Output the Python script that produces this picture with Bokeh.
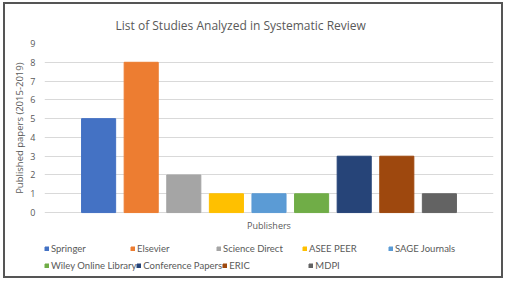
from bokeh.plotting import figure
from bokeh.models import ColumnDataSource, Legend, LegendItem, Range1d, FixedTicker, Label, Title
from bokeh.embed import file_html
from bokeh.resources import INLINE

publishers = ["Springer", "Elsevier", "Science Direct", "ASEE PEER", "SAGE Journals",
              "Wiley Online Library", "Conference Papers", "ERIC", "MDPI"]
papers = [5, 8, 2, 1, 1, 1, 3, 3, 1]
colors = ["#4472C4", "#ED7D31", "#A5A5A5", "#FFC000", "#5B9BD5",
          "#70AD47", "#264478", "#9E480E", "#636363"]
y_ticks = [0, 1, 2, 3, 4, 5, 6, 7, 8, 9]

src = ColumnDataSource(dict(x=list(range(len(publishers))), top=papers,
                            publisher=publishers, color=colors))

TXT = "#595959"
FONT = "Open Sans"
LEG_FONT = "Lato"

# frame: bars area on top, legend area below value 0 (no gridlines there)
p = figure(width=500, height=276, output_backend="svg", toolbar_location=None,
           x_range=Range1d(-1.27, len(publishers) - 1 + 1.27), y_range=Range1d(-3.51, 9),
           min_border_left=39, min_border_right=12, min_border_top=39, min_border_bottom=2)
p.styles = {"border": "2px solid #555555", "margin-left": "3px", "margin-top": "2px"}

p.title.text = "List of Studies Analyzed in Systematic Review"
p.title.align = "left"
p.title.offset = 71
p.title.standoff = 20
p.title.text_font = FONT
p.title.text_font_size = "12px"
p.title.text_font_style = "normal"
p.title.text_color = TXT

r = p.vbar(x="x", top="top", width=0.8, color="color", source=src)

p.xaxis.visible = False
p.xgrid.grid_line_color = None
p.ygrid.ticker = FixedTicker(ticks=y_ticks)
p.ygrid.grid_line_color = "#d9d9d9"
p.outline_line_color = None

p.yaxis.ticker = FixedTicker(ticks=y_ticks)
p.yaxis.axis_line_color = None
p.yaxis.major_tick_line_color = None
p.yaxis.minor_tick_line_color = None
p.yaxis.major_tick_out = 0
p.yaxis.major_tick_in = 0
p.yaxis.minor_tick_out = 0
p.yaxis.major_label_text_font = FONT
p.yaxis.major_label_text_font_size = "9px"
p.yaxis.major_label_text_color = TXT
p.yaxis.major_label_standoff = 9

p.add_layout(Title(text="Published papers (2015-2019)", align="right", offset=19,
                   text_font=FONT, text_font_size="9.5px", text_font_style="normal",
                   text_color=TXT, standoff=4), "left")

p.add_layout(Label(x=4, y=-0.69, text="Publishers", text_align="center",
                   text_baseline="middle", text_font=FONT, text_font_size="9px",
                   text_color=TXT))


def make_legend(idx, y):
    items = [LegendItem(label=publishers[i], renderers=[r], index=i) for i in idx]
    return Legend(items=items, orientation="horizontal", location=(0, y),
                  glyph_width=5, glyph_height=5, label_standoff=2, label_width=79,
                  label_height=17,
                  label_text_font=LEG_FONT, label_text_font_size="9.5px",
                  label_text_color=TXT,
                  spacing=0, padding=0, margin=0, border_line_color=None,
                  background_fill_alpha=0)


p.add_layout(make_legend([0, 1, 2, 3, 4], 21))
p.add_layout(make_legend([5, 6, 7, 8], 4))

open("out.html", "w").write(file_html(p, INLINE))
